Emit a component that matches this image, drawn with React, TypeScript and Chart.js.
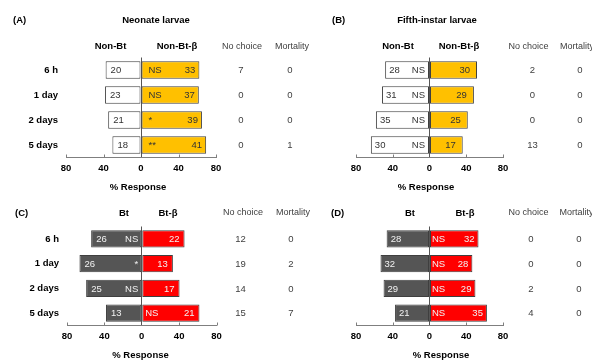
import React, { useEffect, useRef } from 'react';
import { Chart, registerables } from 'chart.js';

Chart.register(...registerables);

const FONT = "'Liberation Sans', Arial, Helvetica, sans-serif";

// Shared row labels and axis ticks (% response, mirrored around 0)
const categories = ['6 h', '1 day', '2 days', '5 days'];
const xTicks = [-80, -40, 0, 40, 80];

// (A) Neonate larvae: Non-Bt vs Non-Bt-β (larva counts)
const neonateNonBt = [20, 23, 21, 18];
const neonateNonBtBeta = [33, 37, 39, 41];
const neonateNonBtNoChoice = [7, 0, 0, 0];
const neonateNonBtMortality = [0, 0, 0, 1];
const neonateNonBtSigLeft = ['', '', '', ''];
const neonateNonBtSigRight = ['NS', 'NS', '*', '**'];

// (B) Fifth-instar larvae: Non-Bt vs Non-Bt-β
const fifthNonBt = [28, 31, 35, 30];
const fifthNonBtBeta = [30, 29, 25, 17];
const fifthNonBtNoChoice = [2, 0, 0, 13];
const fifthNonBtMortality = [0, 0, 0, 0];
const fifthNonBtSigLeft = ['NS', 'NS', 'NS', 'NS'];
const fifthNonBtSigRight = ['', '', '', ''];

// (C) Neonate larvae: Bt vs Bt-β
const neonateBt = [26, 26, 25, 13];
const neonateBtBeta = [22, 13, 17, 21];
const neonateBtNoChoice = [12, 19, 14, 15];
const neonateBtMortality = [0, 2, 0, 7];
const neonateBtSigLeft = ['NS', '*', 'NS', ''];
const neonateBtSigRight = ['', '', '', 'NS'];

// (D) Fifth-instar larvae: Bt vs Bt-β
const fifthBt = [28, 32, 29, 21];
const fifthBtBeta = [32, 28, 29, 35];
const fifthBtNoChoice = [0, 0, 2, 4];
const fifthBtMortality = [0, 0, 0, 0];
const fifthBtSigLeft = ['', '', '', ''];
const fifthBtSigRight = ['NS', 'NS', 'NS', 'NS'];

type Panel = {
  tag: string;
  title?: string;
  leftName: string;
  rightName: string;
  left: number[];
  right: number[];
  noChoice: number[];
  mortality: number[];
  sigLeft: string[];
  sigRight: string[];
  leftFill: string;
  rightFill: string;
  leftInk: string;
  rightInk: string;
  showCategories: boolean;
  area: { left: number; right: number; top: number; bottom: number };
  tagX: number;
  tagY: number;
  titleX?: number;
  headerY: number;
  leftHeaderX: number;
  rightHeaderX: number;
  noChoiceX: number;
  mortalityX: number;
  noChoiceValX: number;
  mortalityValX: number;
  responseX: number;
  responseY: number;
  countGapL: number;
  countGapR: number;
  sigGap: number;
};

const WHITE = '#ffffff';
const ORANGE = '#ffc000';
const GREY = '#555555';
const RED = '#ff0000';

const panels: Panel[] = [
  {
    tag: '(A)', title: 'Neonate larvae', leftName: 'Non-Bt', rightName: 'Non-Bt-β',
    left: neonateNonBt, right: neonateNonBtBeta, noChoice: neonateNonBtNoChoice,
    mortality: neonateNonBtMortality, sigLeft: neonateNonBtSigLeft, sigRight: neonateNonBtSigRight,
    leftFill: WHITE, rightFill: ORANGE, leftInk: '#333333', rightInk: '#333333',
    showCategories: true,
    area: { left: 66, right: 216, top: 57.5, bottom: 157.5 },
    tagX: 13, tagY: 20, titleX: 156, headerY: 46.5,
    leftHeaderX: 110.5, rightHeaderX: 177, noChoiceX: 242, mortalityX: 292,
    noChoiceValX: 241, mortalityValX: 290, responseX: 138, responseY: 187,
    countGapL: 5, countGapR: 4, sigGap: 7,
  },
  {
    tag: '(B)', title: 'Fifth-instar larvae', leftName: 'Non-Bt', rightName: 'Non-Bt-β',
    left: fifthNonBt, right: fifthNonBtBeta, noChoice: fifthNonBtNoChoice,
    mortality: fifthNonBtMortality, sigLeft: fifthNonBtSigLeft, sigRight: fifthNonBtSigRight,
    leftFill: WHITE, rightFill: ORANGE, leftInk: '#333333', rightInk: '#333333',
    showCategories: false,
    area: { left: 356, right: 503, top: 57.5, bottom: 157.5 },
    tagX: 332, tagY: 20, titleX: 437, headerY: 46.5,
    leftHeaderX: 398, rightHeaderX: 459, noChoiceX: 528.5, mortalityX: 577,
    noChoiceValX: 532.5, mortalityValX: 580, responseX: 426, responseY: 187,
    countGapL: 4, countGapR: 7, sigGap: 4,
  },
  {
    tag: '(C)', leftName: 'Bt', rightName: 'Bt-β',
    left: neonateBt, right: neonateBtBeta, noChoice: neonateBtNoChoice,
    mortality: neonateBtMortality, sigLeft: neonateBtSigLeft, sigRight: neonateBtSigRight,
    leftFill: GREY, rightFill: RED, leftInk: '#f2f2f2', rightInk: '#f2f2f2',
    showCategories: true,
    area: { left: 67, right: 216.5, top: 226.5, bottom: 325.5 },
    tagX: 15, tagY: 213, headerY: 213,
    leftHeaderX: 124, rightHeaderX: 168, noChoiceX: 243, mortalityX: 293,
    noChoiceValX: 240.5, mortalityValX: 291, responseX: 140.5, responseY: 355,
    countGapL: 5, countGapR: 5, sigGap: 3,
  },
  {
    tag: '(D)', leftName: 'Bt', rightName: 'Bt-β',
    left: fifthBt, right: fifthBtBeta, noChoice: fifthBtNoChoice,
    mortality: fifthBtMortality, sigLeft: fifthBtSigLeft, sigRight: fifthBtSigRight,
    leftFill: GREY, rightFill: RED, leftInk: '#f2f2f2', rightInk: '#f2f2f2',
    showCategories: false,
    area: { left: 356, right: 503, top: 226.5, bottom: 325.5 },
    tagX: 331, tagY: 213, headerY: 213,
    leftHeaderX: 410, rightHeaderX: 465, noChoiceX: 528.5, mortalityX: 576.5,
    noChoiceValX: 531, mortalityValX: 579, responseX: 441, responseY: 355,
    countGapL: 4, countGapR: 4, sigGap: 2,
  },
];

const W = 592;
const H = 360;
const X_AXIS_H = 20;

// share of larvae that chose each side (no-choice larvae excluded)
const pct = (a: number[], b: number[], side: 'left' | 'right') =>
  a.map((v, i) => {
    const total = v + b[i];
    const n = side === 'left' ? v : b[i];
    return total ? (n / total) * 100 : 0;
  });

function text(
  ctx: CanvasRenderingContext2D,
  s: string,
  x: number,
  y: number,
  size: number,
  bold: boolean,
  color: string,
  align: CanvasTextAlign = 'center',
) {
  if (!s) return;
  ctx.save();
  ctx.font = `${bold ? 'bold ' : ''}${size}px ${FONT}`;
  ctx.fillStyle = color;
  ctx.textAlign = align;
  ctx.textBaseline = 'middle';
  ctx.fillText(s, x, y);
  ctx.restore();
}

function makeDecor(p: Panel) {
  return {
    id: 'panelDecor',
    afterDraw(chart: any) {
      const ctx: CanvasRenderingContext2D = chart.ctx;
      const xs = chart.scales.x;
      const area = chart.chartArea;

      // short inward tick marks on the response axis
      ctx.save();
      ctx.strokeStyle = '#7f7f7f';
      ctx.lineWidth = 1;
      xTicks.forEach((v) => {
        if (v === 0) return;
        const px = Math.round(xs.getPixelForValue(v)) + 0.5;
        ctx.beginPath();
        ctx.moveTo(px, area.bottom);
        ctx.lineTo(px, area.bottom - 3);
        ctx.stroke();
      });
      ctx.restore();

      // panel tag, title and column headers
      text(ctx, p.tag, p.tagX, p.tagY, 9.5, true, '#000', 'left');
      if (p.title && p.titleX !== undefined) text(ctx, p.title, p.titleX, p.tagY, 9.5, true, '#000');
      text(ctx, p.leftName, p.leftHeaderX, p.headerY, 9.5, true, '#000');
      text(ctx, p.rightName, p.rightHeaderX, p.headerY, 9.5, true, '#000');
      text(ctx, 'No choice', p.noChoiceX, p.headerY, 9, false, '#404040');
      text(ctx, 'Mortality', p.mortalityX, p.headerY, 9, false, '#404040');
      text(ctx, '% Response', p.responseX, p.responseY, 9.5, true, '#000');

      const leftMeta = chart.getDatasetMeta(0);
      const rightMeta = chart.getDatasetMeta(1);
      categories.forEach((_, i) => {
        const lb = leftMeta.data[i];
        const rb = rightMeta.data[i];
        const y = lb.y + 0.5;
        const lLeft = Math.min(lb.x, lb.base);
        const lRight = Math.max(lb.x, lb.base);
        const rLeft = Math.min(rb.x, rb.base);
        const rRight = Math.max(rb.x, rb.base);

        text(ctx, String(p.left[i]), lLeft + p.countGapL, y, 9.5, false, p.leftInk, 'left');
        text(ctx, p.sigLeft[i], lRight - p.sigGap, y, 9.5, false, p.leftInk, 'right');
        text(ctx, String(p.right[i]), rRight - p.countGapR, y, 9.5, false, p.rightInk, 'right');
        text(ctx, p.sigRight[i], rLeft + p.sigGap, y, 9.5, false, p.rightInk, 'left');

        text(ctx, String(p.noChoice[i]), p.noChoiceValX, y, 9.5, false, '#404040');
        text(ctx, String(p.mortality[i]), p.mortalityValX, y, 9.5, false, '#404040');
      });
    },
  };
}

function PanelChart({ p }: { p: Panel }) {
  const ref = useRef<HTMLCanvasElement | null>(null);

  useEffect(() => {
    if (!ref.current) return;
    const leftPct = pct(p.left, p.right, 'left').map((v) => -v);
    const rightPct = pct(p.left, p.right, 'right');

    const chart = new Chart(ref.current, {
      type: 'bar',
      data: {
        labels: categories,
        datasets: [
          {
            label: p.leftName,
            data: leftPct,
            backgroundColor: p.leftFill,
            borderColor: '#3f3f3f',
            borderWidth: 1,
            borderSkipped: false,
            barPercentage: 0.7,
            categoryPercentage: 1,
          },
          {
            label: p.rightName,
            data: rightPct,
            backgroundColor: p.rightFill,
            borderColor: '#3f3f3f',
            borderWidth: 1,
            borderSkipped: false,
            barPercentage: 0.7,
            categoryPercentage: 1,
          },
        ],
      },
      options: {
        indexAxis: 'y',
        responsive: false,
        maintainAspectRatio: false,
        animation: false,
        layout: {
          padding: {
            left: 0,
            top: p.area.top,
            right: W - p.area.right,
            bottom: H - p.area.bottom - X_AXIS_H,
          },
        },
        plugins: {
          legend: { display: false },
          tooltip: { enabled: false },
          title: { display: false },
        },
        scales: {
          x: {
            type: 'linear',
            stacked: true,
            min: -80,
            max: 80,
            afterFit: (s: any) => {
              s.height = X_AXIS_H;
            },
            afterBuildTicks: (s: any) => {
              s.ticks = xTicks.map((v) => ({ value: v }));
            },
            ticks: {
              padding: 5,
              maxRotation: 0,
              autoSkip: false,
              color: '#000',
              font: { family: FONT, size: 9.5, weight: 'bold' },
              callback: (v: any) => String(Math.abs(Number(v))),
            },
            grid: {
              drawTicks: false,
              color: (c: any) => (c.tick && c.tick.value === 0 ? '#555555' : 'rgba(0,0,0,0)'),
            },
            border: { display: true, color: '#7f7f7f', width: 1 },
          },
          y: {
            type: 'category',
            stacked: true,
            afterFit: (s: any) => {
              s.width = p.area.left;
            },
            ticks: {
              display: p.showCategories,
              padding: 8,
              color: '#000',
              font: { family: FONT, size: 9.5, weight: 'bold' },
            },
            grid: { display: false, drawTicks: false },
            border: { display: false },
          },
        },
      },
      plugins: [makeDecor(p)],
    } as any);

    return () => chart.destroy();
  }, [p]);

  return (
    <canvas
      ref={ref}
      width={W}
      height={H}
      style={{ position: 'absolute', left: 0, top: 0, width: W, height: H }}
    />
  );
}

export default function App() {
  return (
    <div
      style={{
        position: 'fixed',
        left: 0,
        top: 0,
        width: W,
        height: H,
        background: '#ffffff',
        overflow: 'hidden',
      }}
    >
      {panels.map((p) => (
        <PanelChart key={p.tag} p={p} />
      ))}
    </div>
  );
}
